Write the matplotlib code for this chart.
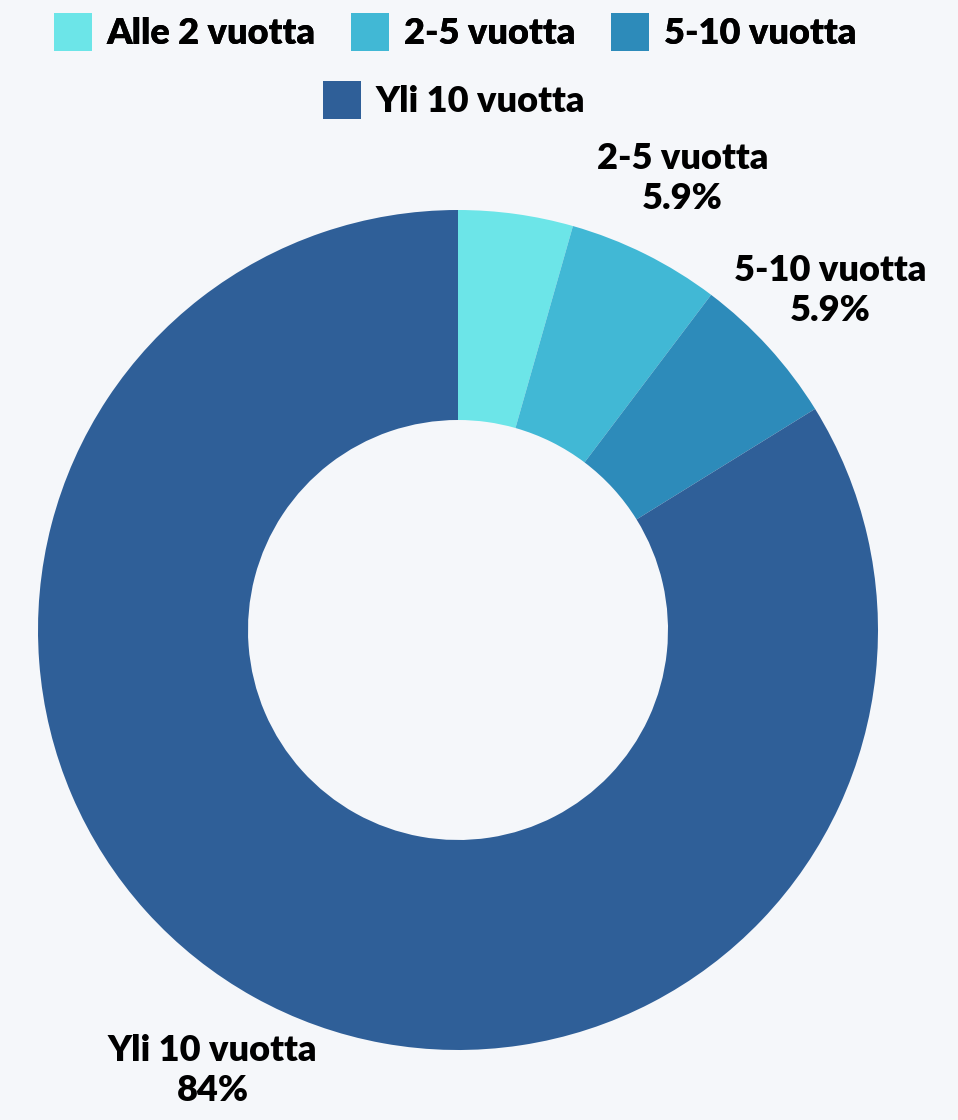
import numpy as np
import matplotlib.pyplot as plt

categories = ['Alle 2 vuotta', '2-5 vuotta', '5-10 vuotta', 'Yli 10 vuotta']
counts = [3, 4, 4, 57]
colors = ['#6ce5e8', '#41b8d5', '#2d8bba', '#2f5f98']
show_label = [False, True, True, True]

plt.rcParams['font.family'] = ['Lato', 'DejaVu Sans']

bg = '#f5f7fa'
fig = plt.figure(figsize=(9.58, 11.2), dpi=100, facecolor=bg)
ax = fig.add_axes([38 / 958, 70 / 1120, 840 / 958, 840 / 1120])
ax.set_facecolor(bg)

total = sum(counts)
labels = []
for c, n, s in zip(categories, counts, show_label):
    labels.append(f'{c}\n{100 * n / total:.2g}%' if s else '')

wedges, texts = ax.pie(counts, colors=colors, labels=labels, startangle=90,
                       counterclock=False, labeldistance=1.2, radius=1,
                       wedgeprops=dict(width=0.5, linewidth=0))
for t in texts:
    t.set_ha('center')
    t.set_va('center')
    t.set_fontsize(26)
    t.set_fontweight('heavy')
    t.set_linespacing(1.25)
    t.set_clip_on(False)

ax.set_xlim(-1, 1)
ax.set_ylim(-1, 1)
ax.axis('off')

leg_kw = dict(frameon=False, handlelength=1.05, handleheight=1.2,
              handletextpad=0.4, columnspacing=1.0,
              prop=dict(family=['Lato', 'DejaVu Sans'], weight='heavy', size=26))
leg1 = fig.legend(wedges[:3], categories[:3], ncol=3, loc='center',
                  bbox_to_anchor=(455 / 958, 1 - 32 / 1120), **leg_kw)
fig.add_artist(leg1)
fig.legend(wedges[3:], categories[3:], ncol=1, loc='center',
           bbox_to_anchor=(454 / 958, 1 - 100 / 1120), **leg_kw)

fig.savefig('out.png', dpi=100, facecolor=bg)
